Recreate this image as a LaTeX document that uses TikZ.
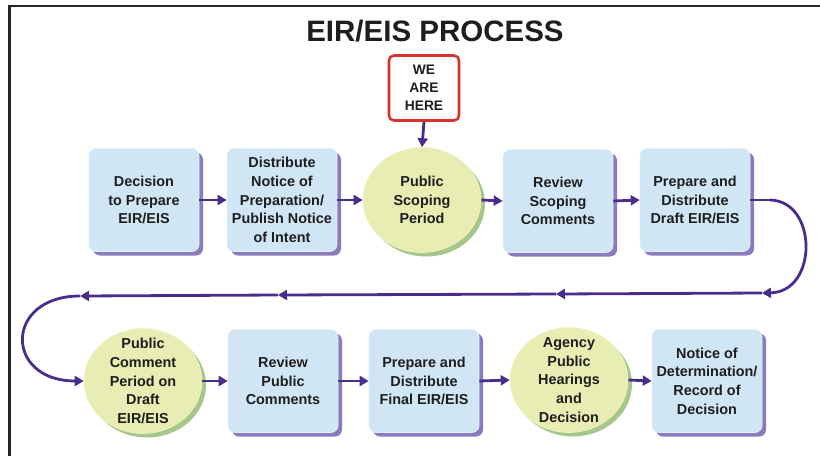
\documentclass[tikz,border=0pt]{standalone}
\usepackage{fontspec}
\setmainfont{Liberation Sans}
\usetikzlibrary{shapes.geometric,shadows,arrows.meta}
\definecolor{boxblue}{HTML}{D0E6F5}
\definecolor{boxshadow}{HTML}{8A7BBC}
\definecolor{circfill}{HTML}{E8EDB3}
\definecolor{circshadow}{HTML}{A6C78A}
\definecolor{flow}{HTML}{4A2C8C}
\definecolor{herered}{HTML}{D8332B}
\definecolor{txt}{HTML}{1E1E1E}
\tikzset{
  stepbox/.style={rectangle, rounded corners=7pt, fill=boxblue, draw=boxblue!60!white, line width=0.6pt,
    minimum width=110pt, minimum height=103pt, inner sep=0pt, align=center, text=txt,
    font=\fontsize{14.4}{18.6}\selectfont\bfseries,
    general shadow={fill=boxshadow, shadow xshift=4pt, shadow yshift=-4pt}},
  circ/.style={ellipse, fill=circfill, draw=circfill!70!white, line width=0.6pt,
    minimum width=118pt, minimum height=105pt, inner sep=0pt,
    general shadow={fill=circshadow, shadow xshift=4pt, shadow yshift=-4pt}},
  ctext/.style={align=center, text=txt, inner sep=0pt, font=\fontsize{14.4}{18.6}\selectfont\bfseries},
  flowarrow/.style={draw=flow, line width=2.8pt, -{Triangle[length=9pt,width=10pt]}},
  flowline/.style={draw=flow, line width=2.8pt},
  herebox/.style={rectangle, rounded corners=5pt, draw=herered, line width=2.6pt, fill=white,
    minimum width=70pt, minimum height=65pt, inner sep=0pt, align=center, text=txt,
    font=\fontsize{13.8}{17.8}\selectfont\bfseries},
  title/.style={text=txt, font=\fontsize{29.5}{32}\selectfont\bfseries, inner sep=0pt},
  frameline/.style={draw=black!85, line width=2.6pt}
}
\begin{document}
\begin{tikzpicture}[x=1pt,y=-1pt]
\useasboundingbox (0,0) rectangle (820,456);
% frame
\coordinate (ftl) at (9.5,6);
\coordinate (ftr) at (820,6);
\coordinate (fbl) at (9.5,456);
\draw[frameline] (ftr) -- (ftl) -- (fbl);
% title
\node[title] (title) at (435,31) {EIR/EIS PROCESS};
% we are here
\node[herebox] (here) at (424,88) {WE\\ARE\\HERE};
% row 1
\node[stepbox] (b1) at (144,200) {Decision\\to Prepare\\EIR/EIS};
\node[stepbox] (b2) at (282,200) {Distribute\\Notice of\\Preparation/\\Publish Notice\\of Intent};
\node[circ] (c1) at (422,200) {};
\node[ctext] at (c1) {Public\\Scoping\\Period};
\node[stepbox] (b3) at (558,201) {Review\\Scoping\\Comments};
\node[stepbox] (b4) at (695,200) {Prepare and\\Distribute\\Draft EIR/EIS};
% row 2
\node[circ] (c2) at (143,381) {};
\node[ctext] at (c2) {Public\\Comment\\Period on\\Draft\\EIR/EIS};
\node[stepbox] (b5) at (283,381) {Review\\Public\\Comments};
\node[stepbox] (b6) at (424,381) {Prepare and\\Distribute\\Final EIR/EIS};
\node[circ] (c3) at (569,380) {};
\node[ctext] at (c3) {Agency\\Public\\Hearings\\and\\Decision};
\node[stepbox] (b7) at (707,381) {Notice of\\Determination/\\Record of\\Decision};
% arrows row 1
\draw[flowarrow] (here.south) -- (c1.north);
\draw[flowarrow] (b1.east) -- (b2.west);
\draw[flowarrow] (b2.east) -- (c1.west);
\draw[flowarrow] (c1.east) -- (b3.west);
\draw[flowarrow] (b3.east) -- (b4.west);
% loop
\coordinate (r1) at (770,200);
\coordinate (m1) at (762,293);
\coordinate (m2) at (556,294);
\coordinate (m3) at (278,295);
\coordinate (m4) at (80,296);
\draw[flowline] (b4.east) -- (r1);
\draw[flowarrow] (r1) .. controls (818,201) and (818,292) .. (m1);
\draw[flowarrow] (m1) -- (m2);
\draw[flowarrow] (m2) -- (m3);
\draw[flowarrow] (m3) -- (m4);
\draw[flowarrow] (m4) .. controls (4,296) and (4,381) .. (c2.west);
% arrows row 2
\draw[flowarrow] (c2.east) -- (b5.west);
\draw[flowarrow] (b5.east) -- (b6.west);
\draw[flowarrow] (b6.east) -- (c3.west);
\draw[flowarrow] (c3.east) -- (b7.west);
\end{tikzpicture}
\end{document}
